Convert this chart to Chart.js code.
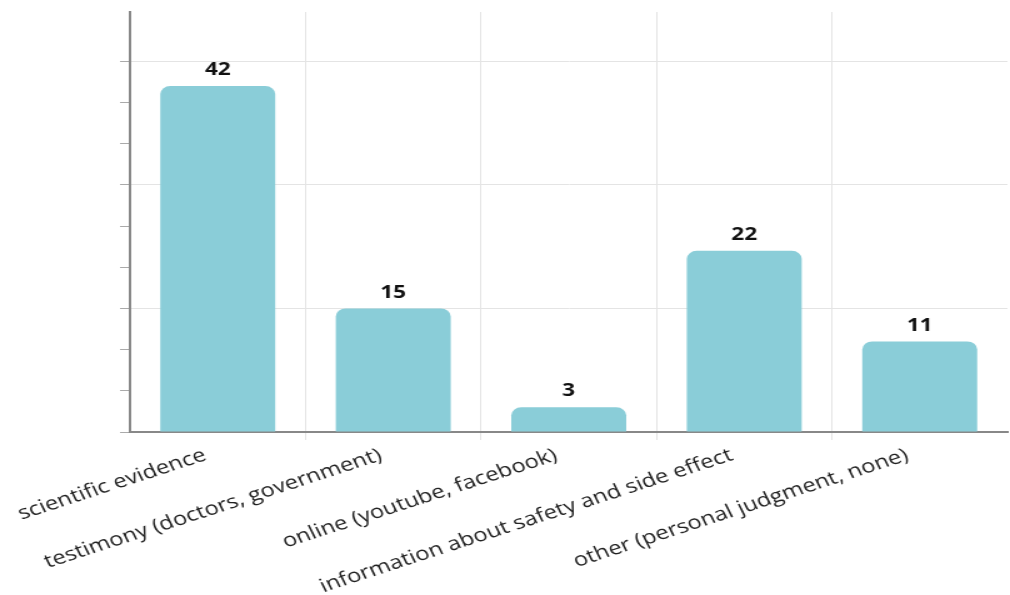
<!DOCTYPE html>
<html>
<head>
<meta charset="utf-8">
<script src="https://cdn.jsdelivr.net/npm/chart.js@4"></script>
<style>
  html, body { margin: 0; padding: 0; background: #fff; overflow: hidden; }
  /* the original picture is stretched sideways, so draw narrow and widen it */
  #wrap { width: 808px; height: 595px; transform: scaleX(1.25); transform-origin: 0 0; }
</style>
</head>
<body>
<div id="wrap"><canvas id="chart"></canvas></div>
<script>
const categories = [
  "scientific evidence",
  "testimony (doctors, government)",
  "online (youtube, facebook)",
  "information about safety and side effect",
  "other (personal judgment, none)"
];
const counts = [42, 15, 3, 22, 11];

// draws the count above each bar
const valueLabels = {
  id: "valueLabels",
  afterDatasetsDraw(chart) {
    const ctx = chart.ctx;
    const meta = chart.getDatasetMeta(0);
    ctx.save();
    ctx.font = "bold 18px 'Open Sans'";
    ctx.fillStyle = "#111";
    ctx.textAlign = "center";
    ctx.textBaseline = "bottom";
    meta.data.forEach((bar, i) => {
      ctx.fillText(chart.data.datasets[0].data[i], bar.x, bar.y - 7);
    });
    ctx.restore();
  }
};

new Chart(document.getElementById("chart"), {
  type: "bar",
  data: {
    labels: categories,
    datasets: [{
      data: counts,
      backgroundColor: "#8acdd8",
      borderRadius: 8,
      borderSkipped: "start",
      categoryPercentage: 1,
      barPercentage: 0.655
    }]
  },
  options: {
    responsive: true,
    maintainAspectRatio: false,
    animation: false,
    layout: { padding: { top: 12, right: 2, left: 0, bottom: 0 } },
    plugins: {
      legend: { display: false },
      tooltip: { enabled: false }
    },
    scales: {
      x: {
        afterFit: (axis) => { axis.height = 163; },
        grid: {
          offset: true,
          // no line on the y axis or at the far right edge
          color: (c) => (c.type !== "tick" || c.index === 0) ? "rgba(0,0,0,0)" : "#e4e4e4",
          tickLength: 8
        },
        border: { color: "#888", width: 2 },
        ticks: {
          minRotation: 22,
          maxRotation: 22,
          color: "#222",
          font: { family: "'Open Sans'", size: 19 },
          padding: 4,
          labelOffset: -10
        }
      },
      y: {
        min: 0,
        max: 51,
        afterFit: (axis) => { axis.width = 104; },
        afterBuildTicks: (axis) => {
          axis.ticks = axis.ticks.filter((t) => t.value % 5 === 0);
        },
        ticks: { stepSize: 5, display: false },
        grid: {
          color: (c) => (c.tick && c.tick.value % 15 === 0 && c.tick.value > 0) ? "#e4e4e4" : "rgba(0,0,0,0)",
          tickColor: "#aaa",
          tickLength: 8
        },
        border: { color: "#888", width: 2 }
      }
    }
  },
  plugins: [valueLabels]
});
</script>
</body>
</html>
